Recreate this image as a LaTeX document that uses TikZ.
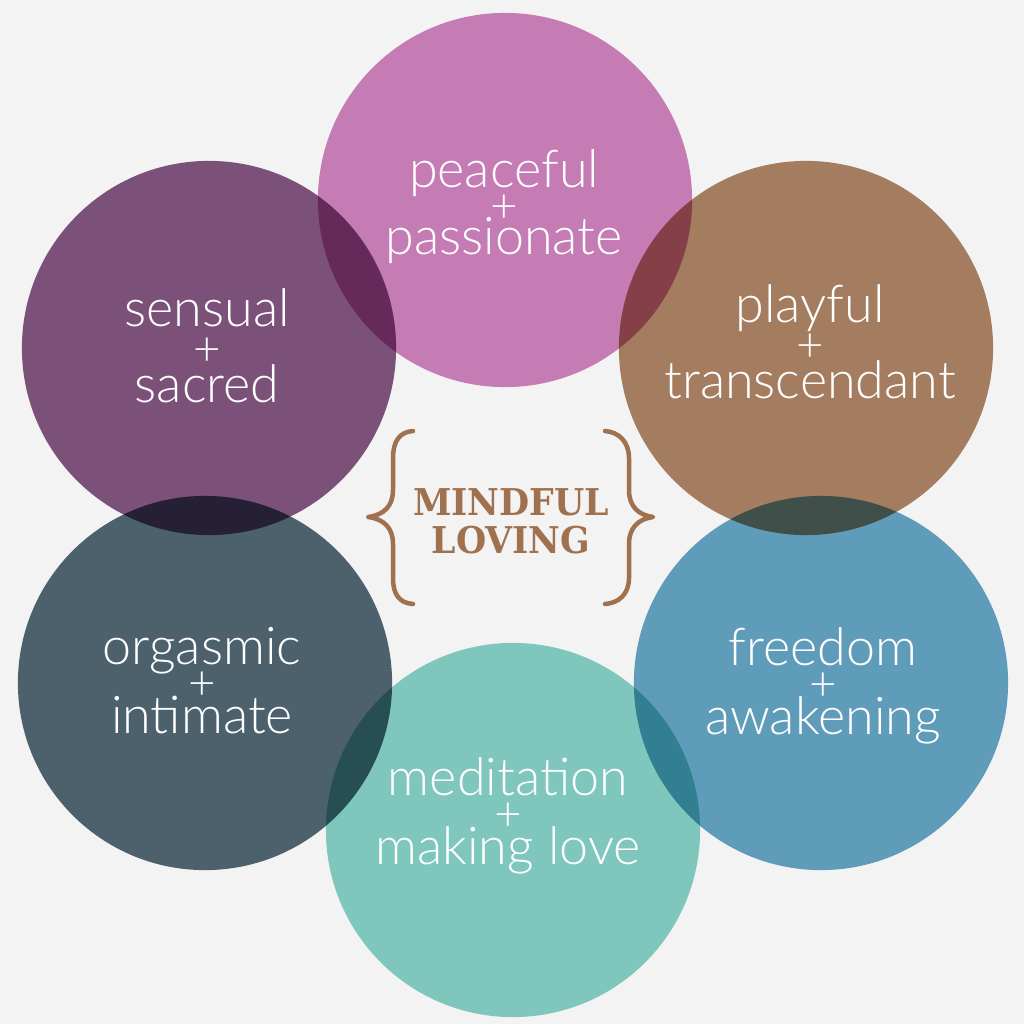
\documentclass[tikz,border=0pt]{standalone}
\usepackage{fontspec}
\setmainfont{Lato Light}
\newfontfamily\slabfont{DejaVu Serif}[FakeStretch=0.94]
\newcommand\labfont[1]{\fontsize{14.8}{#1}\selectfont\lineskiplimit=-30pt\relax}
\newcommand\titfont{\slabfont\bfseries\fontsize{10.5}{10.8}\selectfont\lineskiplimit=-30pt\relax}
\newcommand\plusmark{{\fontsize{13.5}{10}\selectfont\raisebox{-0.3pt}{+}}}
\definecolor{bgc}{HTML}{F3F3F3}
\definecolor{cpeace}{HTML}{CF83BD}
\definecolor{csens}{HTML}{835580}
\definecolor{cplay}{HTML}{AD8364}
\definecolor{corg}{HTML}{506672}
\definecolor{cfree}{HTML}{64A4C4}
\definecolor{cmed}{HTML}{86D0C6}
\definecolor{cbrown}{HTML}{A0714F}
\begin{document}
\begin{tikzpicture}[x=0.01cm,y=-0.01cm]
\tikzset{
  bubble/.style={circle, inner sep=0pt, minimum size=3.74cm, fill=#1, blend mode=multiply},
  lab/.style={text=white, align=center, font=\labfont{#1}, inner sep=0pt, anchor=base},
  bracepath/.style={draw=cbrown, line width=0.45mm, line cap=round, line join=round}
}
\fill[bgc] (0,0) rectangle (1024,1024);
\useasboundingbox (0,0) rectangle (1024,1024);
\node[bubble=cpeace] (peace) at (505,200) {};
\node[bubble=csens]  (sens)  at (209,348) {};
\node[bubble=cplay]  (play)  at (806,348) {};
\node[bubble=corg]   (org)   at (205,683) {};
\node[bubble=cfree]  (free)  at (821,683) {};
\node[bubble=cmed]   (med)   at (513,830) {};
\node[lab=9.4pt]  (tpeace) at (504,254) {peaceful\\\plusmark\\passionate};
\node[lab=10.8pt] (tsens)  at (207,402) {sensual\\\plusmark\\sacred};
\node[lab=10.7pt] (tplay)  at (810,398) {playful\\\plusmark\\transcendant};
\node[lab=9.7pt]  (torg)   at (202,733) {orgasmic\\\plusmark\\intimate};
\node[lab=9.8pt]  (tfree)  at (823,734) {freedom\\\plusmark\\awakening};
\node[lab=9.8pt]  (tmed)   at (508,864) {meditation\\\plusmark\\making love};
\node[text=cbrown, align=center, font=\titfont, inner sep=0pt, anchor=base] (title) at (511,553) {MINDFUL\\LOVING};
\draw[bracepath] (413,431) .. controls (399,432) and (393,442) .. (393,458) -- (393,490)
  .. controls (393,506) and (384,515) .. (368,517)
  .. controls (384,519) and (393,528) .. (393,544) -- (393,578)
  .. controls (393,594) and (399,603) .. (413,604);
\draw[bracepath] (605,431) .. controls (619,432) and (629,442) .. (629,458) -- (629,490)
  .. controls (629,506) and (638,515) .. (653,517)
  .. controls (638,519) and (629,528) .. (629,544) -- (629,578)
  .. controls (629,594) and (619,603) .. (605,604);
\end{tikzpicture}
\end{document}
